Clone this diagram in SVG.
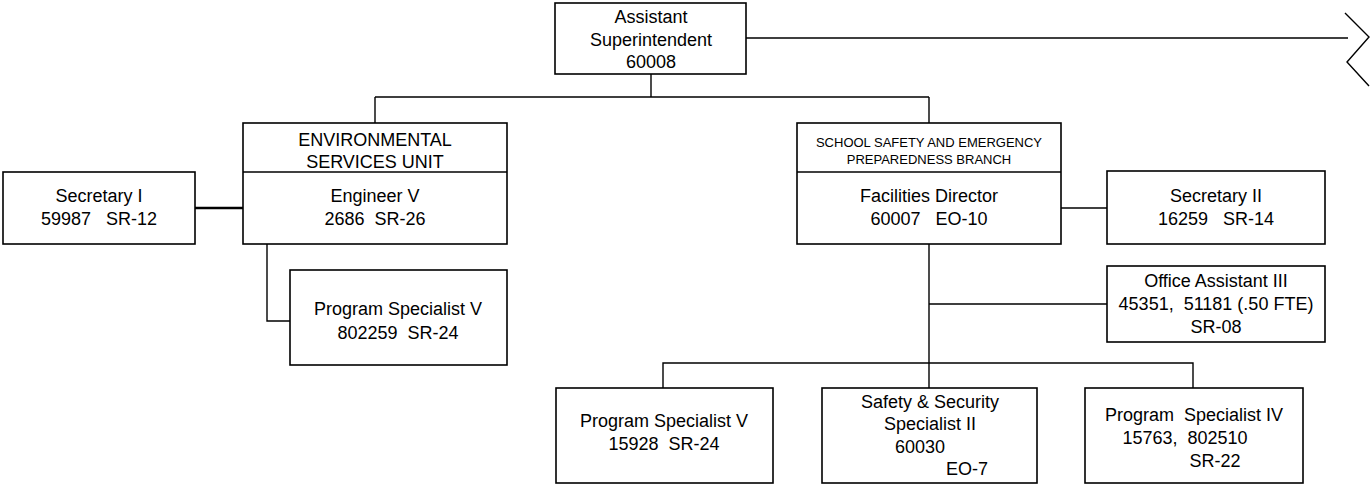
<svg xmlns="http://www.w3.org/2000/svg" width="1371" height="485" viewBox="0 0 1371 485">
<style>
.box{fill:#fff;stroke:#000;stroke-width:1.6}
.ln{fill:none;stroke:#000;stroke-width:1.4}
.t{font-family:"Liberation Sans",Arial,sans-serif;font-size:18px;fill:#000;text-anchor:middle}
.s{font-family:"Liberation Sans",Arial,sans-serif;font-size:13px;fill:#000;text-anchor:middle}
</style>
<rect width="1371" height="485" fill="#fff"/>
<g id="connectors">
<path class="ln" d="M746,38 H1348 M1345,13 L1369,37 L1347,62 L1369,86"/>
<path class="ln" d="M651,74 V97 M375,97 H929 M375,97 V123 M929,97 V123"/>
<path class="ln" d="M195,208 H243" style="stroke-width:2.6"/>
<path class="ln" d="M267,244 V321 H290"/>
<path class="ln" d="M1061,208 H1107"/>
<path class="ln" d="M929,244 V388 M929,304 H1107"/>
<path class="ln" d="M663,388 V363 H1193 V388"/>
</g>
<g id="asst-superintendent">
<rect class="box" x="555" y="3" width="191" height="71"/>
<text class="t" x="651" y="23">Assistant</text>
<text class="t" x="651" y="46">Superintendent</text>
<text class="t" x="651" y="68">60008</text>
</g>
<g id="env-unit">
<rect class="box" x="243" y="123" width="264" height="121"/>
<line class="ln" x1="243" y1="172" x2="507" y2="172"/>
<text class="t" x="375" y="146">ENVIRONMENTAL</text>
<text class="t" x="375" y="168">SERVICES UNIT</text>
<text class="t" x="375" y="202">Engineer V</text>
<text class="t" x="375" y="225" xml:space="preserve">2686  SR-26</text>
</g>
<g id="secretary-1">
<rect class="box" x="3" y="172" width="192" height="72"/>
<text class="t" x="99" y="202">Secretary I</text>
<text class="t" x="99" y="225" xml:space="preserve">59987   SR-12</text>
</g>
<g id="ps5-env">
<rect class="box" x="290" y="270" width="217" height="95"/>
<text class="t" x="398" y="315">Program Specialist V</text>
<text class="t" x="398" y="339" xml:space="preserve">802259  SR-24</text>
</g>
<g id="safety-branch">
<rect class="box" x="797" y="123" width="264" height="121"/>
<line class="ln" x1="797" y1="172" x2="1061" y2="172"/>
<text class="s" x="929" y="147">SCHOOL SAFETY AND EMERGENCY</text>
<text class="s" x="929" y="164">PREPAREDNESS BRANCH</text>
<text class="t" x="929" y="202">Facilities Director</text>
<text class="t" x="929" y="225" xml:space="preserve">60007   EO-10</text>
</g>
<g id="secretary-2">
<rect class="box" x="1107" y="171" width="218" height="73"/>
<text class="t" x="1216" y="202">Secretary II</text>
<text class="t" x="1216" y="225" xml:space="preserve">16259   SR-14</text>
</g>
<g id="office-asst-3">
<rect class="box" x="1107" y="266" width="218" height="76"/>
<text class="t" x="1216" y="287">Office Assistant III</text>
<text class="t" x="1216" y="310" xml:space="preserve">45351,  51181 (.50 FTE)</text>
<text class="t" x="1216" y="333">SR-08</text>
</g>
<g id="ps5-safety">
<rect class="box" x="556" y="388" width="217" height="95"/>
<text class="t" x="664" y="427">Program Specialist V</text>
<text class="t" x="664" y="450" xml:space="preserve">15928  SR-24</text>
</g>
<g id="safety-security-2">
<rect class="box" x="822" y="388" width="215" height="95"/>
<text class="t" x="930" y="408">Safety &amp; Security</text>
<text class="t" x="930" y="430">Specialist II</text>
<text class="t" x="920" y="453">60030</text>
<text class="t" x="967" y="475">EO-7</text>
</g>
<g id="ps4">
<rect class="box" x="1085" y="388" width="218" height="95"/>
<text class="t" x="1194" y="421" xml:space="preserve">Program  Specialist IV</text>
<text class="t" x="1185" y="444" xml:space="preserve">15763,  802510</text>
<text class="t" x="1215" y="467">SR-22</text>
</g>
</svg>
